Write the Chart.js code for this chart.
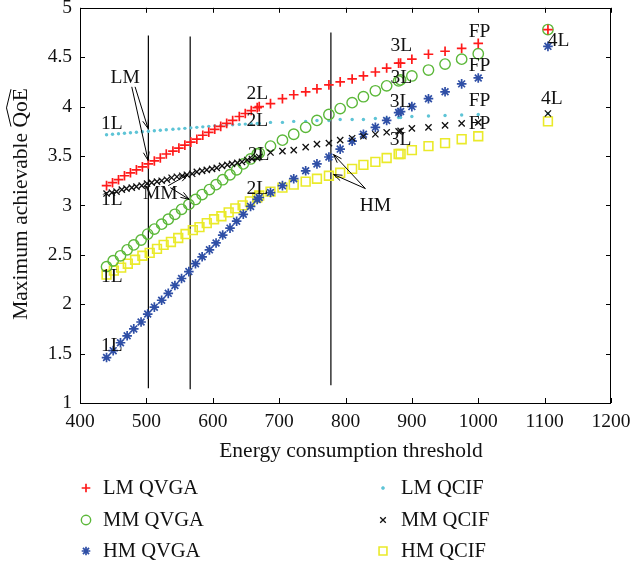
<!DOCTYPE html>
<html><head><meta charset="utf-8">
<script src="https://cdn.jsdelivr.net/npm/chart.js@4/dist/chart.umd.min.js"></script>
<style>html,body{margin:0;padding:0;background:#fff}</style>
</head><body>
<canvas id="c" width="632" height="571"></canvas>
<script>
// ---- x thresholds per segment ----
const X_1L_LM = [440,449,458,467,476,485,494,503,512,521,530,540,549,558,567,576,585,594,603,612,621,630,640,649,658,667];
const X_1L_MMV = [440,450,461,471,481,492,502,512,523,533,543,553,564,574,584,595,605,615,626,636,646,657,667];
const X_1L_MMC = [440,448,455,463,470,478,485,493,501,508,516,523,531,538,546,554,561,569,576,584,591,599,606,614,622,629,637,644,652,659,667];
const X_1L_HMC = [440,451,462,472,483,494,505,516,526,537,548,559,570,580,591,602,613,624,634,645,656,667];
const X_2L = [670,687,705,722,740,757,775,792,810,827,845,862,880];
const X_3L = [883,900,925,950,975];
const X_FP = [1000];
const X_4L = [1105];

// ---- maximum achievable QoE values ----
const LM_QVGA_1L = [3.20,3.23,3.26,3.30,3.33,3.36,3.39,3.42,3.45,3.48,3.52,3.55,3.58,3.61,3.64,3.67,3.71,3.74,3.77,3.80,3.83,3.86,3.90,3.93,3.96,3.99];
const LM_QVGA_2L = [4.00,4.03,4.08,4.12,4.15,4.18,4.22,4.25,4.28,4.31,4.35,4.39,4.44];
const LM_QVGA_3L = [4.44,4.48,4.53,4.56,4.59];
const LM_QVGA_FP = [4.64];
const LM_QVGA_4L = [4.78];

const LM_QCIF_1L = [3.715,3.72,3.725,3.73,3.735,3.74,3.745,3.75,3.755,3.76,3.765,3.77,3.775,3.78,3.785,3.79,3.795,3.80,3.805,3.81,3.813,3.816,3.82,3.823,3.826,3.83];
const LM_QCIF_2L = [3.83,3.84,3.84,3.85,3.85,3.86,3.86,3.87,3.87,3.87,3.88,3.88,3.89];
const LM_QCIF_3L = [3.89,3.90,3.905,3.91,3.915];
const LM_QCIF_FP = [3.92];
const LM_QCIF_4L = [3.93];

const MM_QVGA_1L = [2.38,2.44,2.49,2.55,2.60,2.65,2.71,2.76,2.81,2.86,2.91,2.96,3.01,3.06,3.11,3.16,3.21,3.26,3.31,3.36,3.42,3.47,3.52];
const MM_QVGA_2L = [3.53,3.60,3.66,3.72,3.79,3.86,3.92,3.98,4.04,4.10,4.16,4.21,4.26];
const MM_QVGA_3L = [4.27,4.31,4.37,4.43,4.48];
const MM_QVGA_FP = [4.535];
const MM_QVGA_4L = [4.78];

const MM_QCIF_1L = [3.12,3.13,3.14,3.16,3.17,3.18,3.19,3.20,3.22,3.23,3.24,3.25,3.26,3.28,3.29,3.30,3.31,3.32,3.34,3.35,3.36,3.37,3.38,3.40,3.41,3.42,3.43,3.44,3.46,3.47,3.48];
const MM_QCIF_2L = [3.49,3.535,3.55,3.56,3.59,3.62,3.63,3.66,3.68,3.70,3.72,3.74,3.75];
const MM_QCIF_3L = [3.755,3.78,3.79,3.81,3.83];
const MM_QCIF_FP = [3.84];
const MM_QCIF_4L = [3.93];

const HM_QVGA_1L = [1.46,1.53,1.61,1.68,1.75,1.82,1.90,1.97,2.04,2.11,2.19,2.26,2.33,2.41,2.48,2.55,2.62,2.70,2.77,2.84,2.91,2.99,3.06];
const HM_QVGA_2L = [3.08,3.13,3.20,3.27,3.35,3.42,3.49,3.57,3.65,3.72,3.79,3.86,3.94];
const HM_QVGA_3L = [3.95,4.00,4.08,4.15,4.23];
const HM_QVGA_FP = [4.29];
const HM_QVGA_4L = [4.61];

const HM_QCIF_1L = [2.30,2.34,2.37,2.41,2.45,2.49,2.52,2.56,2.60,2.63,2.67,2.71,2.75,2.78,2.82,2.86,2.89,2.93,2.97,3.00,3.04,3.08];
const HM_QCIF_2L = [3.10,3.14,3.18,3.21,3.24,3.27,3.30,3.33,3.37,3.41,3.44,3.48,3.52];
const HM_QCIF_3L = [3.52,3.56,3.60,3.63,3.67];
const HM_QCIF_FP = [3.70];
const HM_QCIF_4L = [3.85];

// vertical marker lines (energy thresholds) and their extent
const VLINES_X = [503, 566, 778];
const VLINES_Y0 = [1.15, 1.14, 1.18];
const VLINES_Y1 = [4.72, 4.71, 4.75];

// axis ticks
const X_TICKS = [400,500,600,700,800,900,1000,1100,1200];
const Y_TICKS = [1,1.5,2,2.5,3,3.5,4,4.5,5];

// annotations (data coordinates)
const NOTE_TEXT = ['LM','1L','1L','1L','1L','MM','2L','2L','2L','2L','3L','3L','3L','3L','FP','FP','FP','FP','4L','4L','HM'];
const NOTE_X = [468,448,448,448,448,521,667,667,669,667,884,884,883,883,1002,1002,1002,1002,1121,1111,845];
const NOTE_Y = [4.29,3.83,3.06,2.28,1.58,3.12,4.13,3.86,3.515,3.17,4.61,4.29,4.05,3.66,4.76,4.41,4.06,3.83,4.67,4.08,3.00];
const ARROW_FROM_X = [478,483,533,536,830,830];
const ARROW_FROM_Y = [4.20,4.20,3.20,3.18,3.17,3.17];
const ARROW_TO_X = [502.6,502.6,563,564.5,782,782];
const ARROW_TO_Y = [3.455,3.778,3.313,3.061,3.515,3.313];

function pts(xs, ys){ return xs.map((x,i)=>({x:x, y:ys[i]})); }
function series(xParts, yParts){ let out=[]; xParts.forEach((xs,k)=>{ out = out.concat(pts(xs, yParts[k])); }); return out; }

const FONT = '"Liberation Serif", "Times New Roman", serif';

const datasets = [
  {label:'LM QVGA', data: series([X_1L_LM,X_2L,X_3L,X_FP,X_4L],[LM_QVGA_1L,LM_QVGA_2L,LM_QVGA_3L,LM_QVGA_FP,LM_QVGA_4L]),
   pointStyle:'cross', pointRadius:4.8, borderColor:'#ff1a1a', backgroundColor:'#ff1a1a', pointBorderWidth:1.7, legendCol:0, legendRow:0},
  {label:'MM QCIF', data: series([X_1L_MMC,X_2L,X_3L,X_FP,X_4L],[MM_QCIF_1L,MM_QCIF_2L,MM_QCIF_3L,MM_QCIF_FP,MM_QCIF_4L]),
   pointStyle:'crossRot', pointRadius:4.4, borderColor:'#111111', backgroundColor:'#111111', pointBorderWidth:1.3, legendCol:1, legendRow:1},
  {label:'MM QVGA', data: series([X_1L_MMV,X_2L,X_3L,X_FP,X_4L],[MM_QVGA_1L,MM_QVGA_2L,MM_QVGA_3L,MM_QVGA_FP,MM_QVGA_4L]),
   pointStyle:'circle', pointRadius:5.2, borderColor:'#5cb83a', backgroundColor:'rgba(0,0,0,0)', pointBorderWidth:1.4, legendCol:0, legendRow:1},
  {label:'HM QVGA', data: series([X_1L_MMV,X_2L,X_3L,X_FP,X_4L],[HM_QVGA_1L,HM_QVGA_2L,HM_QVGA_3L,HM_QVGA_FP,HM_QVGA_4L]),
   pointStyle:'star', pointRadius:4.8, borderColor:'#2f4fa6', backgroundColor:'#2f4fa6', pointBorderWidth:1.7, legendCol:0, legendRow:2},
  {label:'HM QCIF', data: series([X_1L_HMC,X_2L,X_3L,X_FP,X_4L],[HM_QCIF_1L,HM_QCIF_2L,HM_QCIF_3L,HM_QCIF_FP,HM_QCIF_4L]),
   pointStyle:'rect', pointRadius:6.2, borderColor:'#eaea2a', backgroundColor:'rgba(0,0,0,0)', pointBorderWidth:1.6, legendCol:1, legendRow:2},
  {label:'LM QCIF', data: series([X_1L_LM,X_2L,X_3L,X_FP,X_4L],[LM_QCIF_1L,LM_QCIF_2L,LM_QCIF_3L,LM_QCIF_FP,LM_QCIF_4L]),
   pointStyle:'circle', pointRadius:1.7, borderColor:'#5ec4d6', backgroundColor:'#5ec4d6', pointBorderWidth:0, legendCol:1, legendRow:0}
];
datasets.forEach(d=>{ d.showLine=false; d.pointHoverRadius=d.pointRadius; });

VLINES_X.forEach((x,i)=>{
  datasets.push({label:'_v'+i, data:[{x:x,y:VLINES_Y0[i]},{x:x,y:VLINES_Y1[i]}], showLine:true, pointRadius:0,
    borderColor:'#000', borderWidth:1.2, isRef:true});
});

const decor = {
  id:'decor',
  afterDraw(chart){
    const ctx = chart.ctx, xs = chart.scales.x, ys = chart.scales.y, a = chart.chartArea;
    ctx.save();
    // frame
    ctx.strokeStyle='#000'; ctx.lineWidth=1;
    ctx.strokeRect(Math.round(a.left)+0.5, Math.round(a.top)+0.5, Math.round(a.right-a.left)-1, Math.round(a.bottom-a.top));
    // inward ticks
    const TL = 5;
    ctx.beginPath();
    X_TICKS.forEach(v=>{ const p=Math.round(xs.getPixelForValue(v))+0.5;
      ctx.moveTo(p,a.bottom); ctx.lineTo(p,a.bottom-TL); ctx.moveTo(p,a.top); ctx.lineTo(p,a.top+TL); });
    Y_TICKS.forEach(v=>{ const p=Math.round(ys.getPixelForValue(v))+0.5;
      ctx.moveTo(a.left,p); ctx.lineTo(a.left+TL,p); ctx.moveTo(a.right,p); ctx.lineTo(a.right-TL,p); });
    ctx.stroke();

    // annotations
    ctx.fillStyle='#111'; ctx.font='19.5px '+FONT; ctx.textAlign='center'; ctx.textBaseline='middle';
    NOTE_TEXT.forEach((t,i)=>{ ctx.fillText(t, xs.getPixelForValue(NOTE_X[i]), ys.getPixelForValue(NOTE_Y[i])); });
    ctx.strokeStyle='#000'; ctx.lineWidth=1;
    ARROW_FROM_X.forEach((fx,i)=>{
      const x0=xs.getPixelForValue(fx), y0=ys.getPixelForValue(ARROW_FROM_Y[i]);
      const x1=xs.getPixelForValue(ARROW_TO_X[i]), y1=ys.getPixelForValue(ARROW_TO_Y[i]);
      const ang=Math.atan2(y1-y0,x1-x0), L=9, h=0.33;
      ctx.beginPath(); ctx.moveTo(x0,y0); ctx.lineTo(x1,y1);
      ctx.moveTo(x1-L*Math.cos(ang-h), y1-L*Math.sin(ang-h)); ctx.lineTo(x1,y1);
      ctx.lineTo(x1-L*Math.cos(ang+h), y1-L*Math.sin(ang+h));
      ctx.stroke();
    });

    // axis titles
    ctx.fillStyle='#111'; ctx.font='21.5px '+FONT; ctx.textAlign='center'; ctx.textBaseline='alphabetic';
    ctx.fillText('Energy consumption threshold', 351, 457);
    const yt='Maximum achievable QoE';
    ctx.save(); ctx.translate(27, 204); ctx.rotate(-Math.PI/2);
    ctx.fillText(yt, 0, 0);
    const W=ctx.measureText(yt).width, w=ctx.measureText('QoE').width;
    const s=W/2-w+1, e=W/2-1;
    ctx.beginPath(); ctx.lineWidth=1;
    ctx.moveTo(s,-16); ctx.lineTo((s+e)/2,-20.5); ctx.lineTo(e,-16); ctx.stroke();
    ctx.restore();

    // legend
    const colMarker=[86,383], colText=[103,401], rowY=[488,520,551];
    ctx.font='20.5px '+FONT; ctx.textAlign='left'; ctx.textBaseline='middle';
    chart.data.datasets.forEach(d=>{
      if(d.isRef) return;
      const mx=colMarker[d.legendCol], my=rowY[d.legendRow];
      ctx.save();
      ctx.strokeStyle=d.borderColor; ctx.fillStyle=d.backgroundColor; ctx.lineWidth=d.pointBorderWidth||1;
      Chart.helpers.drawPoint(ctx,{pointStyle:d.pointStyle, radius:d.pointRadius*0.9, rotation:0, borderWidth:d.pointBorderWidth}, mx, my);
      if(d.pointBorderWidth===0){ ctx.beginPath(); ctx.arc(mx,my,d.pointRadius,0,Math.PI*2); ctx.fill(); }
      ctx.restore();
      ctx.fillStyle='#111';
      ctx.fillText(d.label, colText[d.legendCol], my+1);
    });
    ctx.restore();
  }
};

new Chart(document.getElementById('c'), {
  type:'scatter',
  data:{datasets},
  options:{
    responsive:false, animation:false, devicePixelRatio:1,
    layout:{padding:{top:7,right:21,left:0,bottom:0}},
    plugins:{legend:{display:false}, tooltip:{enabled:false}},
    scales:{
      x:{type:'linear', min:400, max:1200,
         ticks:{stepSize:100, color:'#111', font:{family:FONT,size:19.5}, padding:7, maxRotation:0, autoSkip:false,
                callback:v=>String(v)},
         grid:{display:false, drawTicks:false}, border:{display:false},
         afterFit:s=>{s.height=168; s.paddingLeft=0; s.paddingRight=0;}},
      y:{type:'linear', min:1, max:5,
         ticks:{stepSize:0.5, color:'#111', font:{family:FONT,size:19.5}, padding:8,
                callback:v=>String(v)},
         grid:{display:false, drawTicks:false}, border:{display:false},
         afterFit:s=>{s.width=80; s.paddingTop=0; s.paddingBottom=0;}}
    }
  },
  plugins:[decor]
});
</script>
</body></html>
